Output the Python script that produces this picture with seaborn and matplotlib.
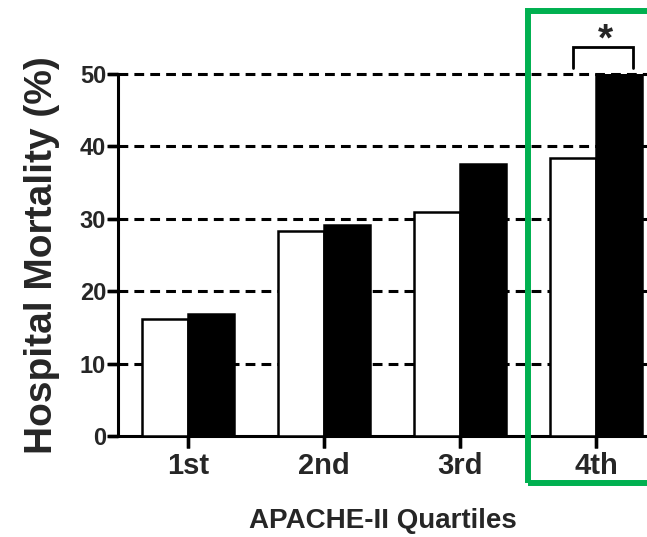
import matplotlib
matplotlib.use("Agg")
import matplotlib.pyplot as plt
import seaborn as sns
import pandas as pd
from matplotlib.patches import Rectangle

# Hospital mortality (%) by APACHE-II quartile for two patient groups
quartiles = ["1st", "2nd", "3rd", "4th"]
group_a = [16.2, 28.3, 30.9, 38.4]   # open bars
group_b = [16.9, 29.2, 37.6, 50.0]   # filled bars
y_ticks = [0, 10, 20, 30, 40, 50]

df = pd.DataFrame({
    "quartile": quartiles * 2,
    "mortality": group_a + group_b,
    "group": ["A"] * len(quartiles) + ["B"] * len(quartiles),
})

sns.set_style("ticks")
plt.rcParams["font.family"] = ["Liberation Sans", "DejaVu Sans"]
plt.rcParams["font.weight"] = "bold"

fig = plt.figure(figsize=(6.47, 5.37), dpi=100)
ax = fig.add_axes([0.1824, 0.1881, 0.8176, 0.6741])

sns.barplot(data=df, x="quartile", y="mortality", hue="group",
            palette={"A": "white", "B": "black"}, width=0.68,
            edgecolor="black", linewidth=1.8, legend=False, ax=ax,
            zorder=3)

ax.set_xlim(-0.515, 3.375)
ax.set_ylim(0, 50)
ax.set_yticks(y_ticks)
ax.set_yticklabels([str(v) for v in y_ticks], fontsize=17, fontweight="bold")
ax.set_xticks(range(len(quartiles)))
ax.set_xticklabels(quartiles, fontsize=21, fontweight="bold")

# dashed horizontal reference lines behind the bars
for v in y_ticks[1:]:
    ax.axhline(v, color="black", lw=2.2, linestyle=(0, (3.2, 2.0)),
               zorder=1, clip_on=False)

for side in ("top", "right"):
    ax.spines[side].set_visible(False)
for side in ("left", "bottom"):
    ax.spines[side].set_linewidth(2.2)
    ax.spines[side].set_color("black")

ax.set_xlabel("APACHE-II Quartiles", fontsize=20, fontweight="bold", labelpad=20)
ax.set_ylabel("Hospital Mortality (%)", fontsize=28, fontweight="bold", labelpad=14)

# significance bracket over the 4th quartile
xa, xb = 2.83, 3.27
ax.plot([xa, xa, xb, xb], [50.8, 53.7, 53.7, 50.8], color="black", lw=2.0,
        clip_on=False, solid_joinstyle="miter")
ax.text(3.07, 54.6, "*", ha="center", va="center", fontsize=28,
        fontweight="bold", clip_on=False)

# highlight box around the 4th quartile
fig.add_artist(Rectangle((528 / 647, 0.1006), 0.3, 0.8789,
                         transform=fig.transFigure, fill=False,
                         edgecolor="#00B050", lw=4.3, zorder=10))

# outward tick marks on both axes
ax.tick_params(axis="x", bottom=True, length=8.5, width=2.4, pad=3,
               color="black")
ax.tick_params(axis="y", left=True, length=7.5, width=2.4, pad=1,
               color="black")
ax.vlines(range(len(quartiles)), -0.033, 0, transform=ax.get_xaxis_transform(),
          color="black", lw=2.4, clip_on=False)
ax.hlines(y_ticks, -0.02, 0, transform=ax.get_yaxis_transform(),
          color="black", lw=2.4, clip_on=False)

fig.savefig("out.png", dpi=100)
